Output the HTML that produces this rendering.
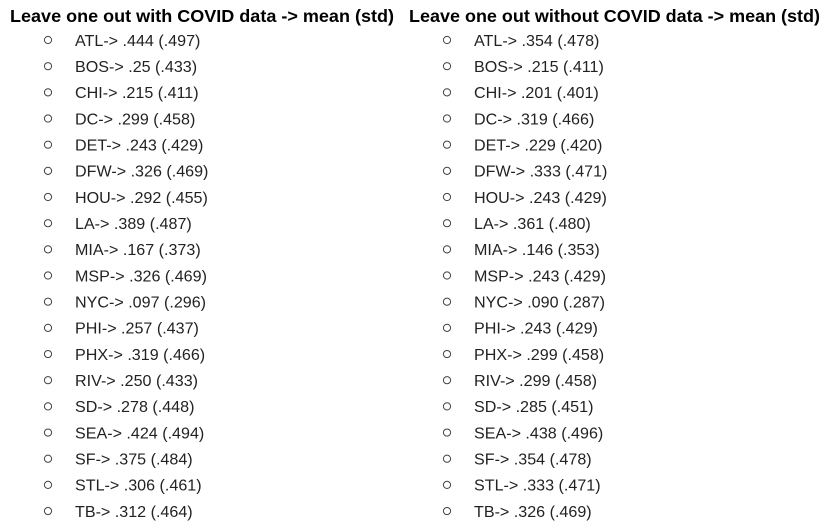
<!DOCTYPE html>
<html><head><meta charset="utf-8"><style>
html,body{margin:0;padding:0;background:#fff;}
svg{display:block;font-family:"Liberation Sans",Arial,sans-serif;}
</style></head><body>
<svg id="s" width="829" height="532">
<text x="10" y="22" font-size="17.5" font-weight="bold" fill="#000" textLength="384" lengthAdjust="spacingAndGlyphs">Leave one out with COVID data -&gt; mean (std)</text>
<text x="409" y="22" font-size="17.5" font-weight="bold" fill="#000" textLength="411" lengthAdjust="spacingAndGlyphs">Leave one out without COVID data -&gt; mean (std)</text>
</svg>
<script>
const cities=["ATL","BOS","CHI","DC","DET","DFW","HOU","LA","MIA","MSP","NYC","PHI","PHX","RIV","SD","SEA","SF","STL","TB"];
const withMean=[".444",".25",".215",".299",".243",".326",".292",".389",".167",".326",".097",".257",".319",".250",".278",".424",".375",".306",".312"];
const withStd=[".497",".433",".411",".458",".429",".469",".455",".487",".373",".469",".296",".437",".466",".433",".448",".494",".484",".461",".464"];
const withoutMean=[".354",".215",".201",".319",".229",".333",".243",".361",".146",".243",".090",".243",".299",".299",".285",".438",".354",".333",".326"];
const withoutStd=[".478",".411",".401",".466",".420",".471",".429",".480",".353",".429",".287",".429",".458",".458",".451",".496",".478",".471",".469"];
const svg=document.getElementById('s');
const NS="http://www.w3.org/2000/svg";
function col(bx,tx,means,stds,prefix){
  cities.forEach((c,i)=>{
    const y=40+i*26.17;
    const ci=document.createElementNS(NS,'circle');
    ci.setAttribute('cx',bx);ci.setAttribute('cy',y);ci.setAttribute('r',3.6);
    ci.setAttribute('fill','none');ci.setAttribute('stroke','#444');ci.setAttribute('stroke-width','1');
    
    
    svg.appendChild(ci);
    const t=document.createElementNS(NS,'text');
    t.setAttribute('x',tx);t.setAttribute('y',y+5.8);t.setAttribute('font-size','16.1');t.setAttribute('fill','#222');
    t.textContent=c+"-> "+means[i]+" ("+stds[i]+")";
    
    
    svg.appendChild(t);
  });
}
col(48,75,withMean,withStd,'with-covid');
col(447,474,withoutMean,withoutStd,'without-covid');
</script>
</body></html>
